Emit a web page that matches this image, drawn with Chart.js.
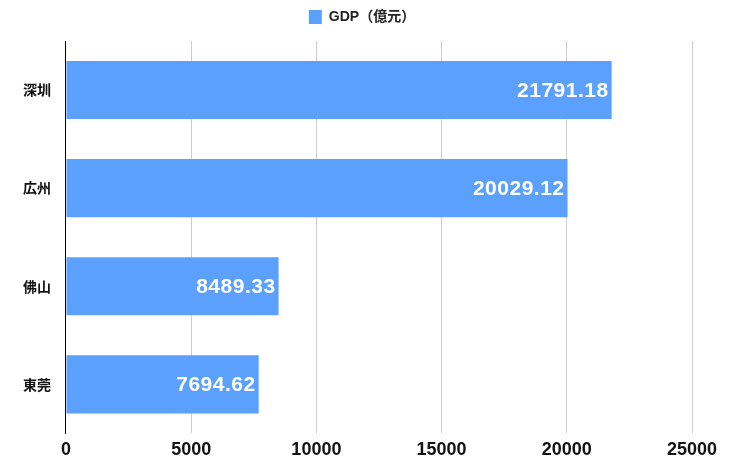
<!DOCTYPE html>
<html>
<head>
<meta charset="utf-8">
<script src="https://cdn.jsdelivr.net/npm/chart.js@4/dist/chart.umd.min.js"></script>
<style>
html,body{margin:0;padding:0;background:#fff;}
#wrap{width:736px;height:467px;position:relative;}
</style>
</head>
<body>
<div id="wrap"><canvas id="c"></canvas></div>
<script>
const categories = ["深圳", "広州", "佛山", "東莞"];
const gdpValues = [21791.18, 20029.12, 8489.33, 7694.62];
const seriesLabel = "GDP（億元）";
const xTicks = [0, 5000, 10000, 15000, 20000, 25000];

const FONT = '"Liberation Sans", "Noto Sans CJK JP", sans-serif';
const CJK = '"Noto Sans CJK JP", "Liberation Sans", sans-serif';

const valueLabels = {
  id: 'valueLabels',
  afterDatasetsDraw(chart) {
    const ctx = chart.ctx;
    const meta = chart.getDatasetMeta(0);
    ctx.save();
    ctx.font = 'bold 21px ' + FONT;
    ctx.letterSpacing = '0.5px';
    ctx.fillStyle = '#ffffff';
    ctx.textAlign = 'right';
    ctx.textBaseline = 'middle';
    meta.data.forEach((bar, i) => {
      ctx.fillText(gdpValues[i].toFixed(2), bar.x - 3, bar.y + 1);
    });
    ctx.restore();
  }
};

const legendSpace = {
  id: 'legendSpace',
  beforeInit(chart) {
    const orig = chart.legend.fit;
    chart.legend.fit = function () {
      orig.call(this);
      this.height += 7;
      if (this.lineWidths) this.lineWidths = this.lineWidths.map(w => w - 24);
    };
  }
};

new Chart(document.getElementById('c'), {
  type: 'bar',
  data: {
    labels: categories,
    datasets: [{
      label: seriesLabel,
      data: gdpValues,
      backgroundColor: '#5ca0fd',
      borderWidth: 0,
      barPercentage: 0.74,
      categoryPercentage: 0.8
    }]
  },
  options: {
    indexAxis: 'y',
    responsive: true,
    maintainAspectRatio: false,
    animation: false,
    layout: { padding: { left: 8, right: 44, top: 0, bottom: 0 } },
    plugins: {
      legend: {
        position: 'top',
        labels: {
          color: '#222',
          font: { family: FONT, size: 14, weight: 'bold' },
          boxWidth: 13,
          boxHeight: 14,
          padding: 10
        }
      },
      tooltip: { enabled: false }
    },
    scales: {
      x: {
        min: 0,
        max: 25000,
        afterBuildTicks(axis) { axis.ticks = xTicks.map(v => ({ value: v })); },
        grid: { color: '#cccccc', drawTicks: false, lineWidth: 1 },
        border: { display: false },
        ticks: {
          color: '#111',
          font: { family: FONT, size: 18, weight: 'bold' },
          padding: 6,
          callback: (v) => String(v)
        }
      },
      y: {
        grid: { display: false, drawTicks: false },
        border: { display: true, color: '#000', width: 1 },
        ticks: { color: '#111', font: { family: CJK, size: 14, weight: 'bold' }, padding: 15 }
      }
    }
  },
  plugins: [valueLabels, legendSpace]
});
</script>
</body>
</html>
